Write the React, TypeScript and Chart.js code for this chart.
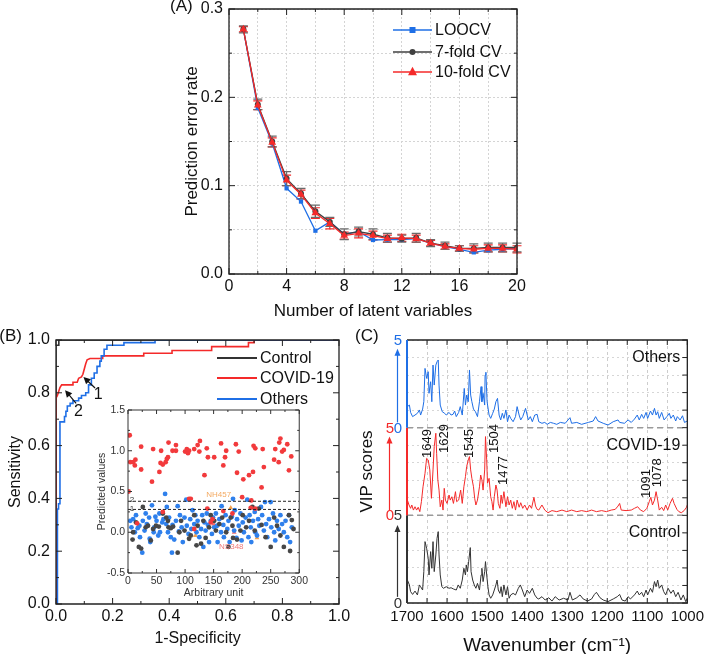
import React, { useEffect, useRef } from "react";
import { Chart, registerables } from "chart.js";

Chart.register(...registerables);

const FONT = "'Liberation Sans', Arial, Helvetica, sans-serif";
Chart.defaults.font.family = FONT;

const BLUE = "#1f6fe6";
const RED = "#f42a2a";
const DARK = "#333333";
const TXT = "#111111";

// ---------------- Panel A : prediction error rate ----------------
const latentVariables = [1, 2, 3, 4, 5, 6, 7, 8, 9, 10, 11, 12, 13, 14, 15, 16, 17, 18, 19, 20];
const loocvRate = [0.277, 0.188, 0.148, 0.097, 0.082, 0.049, 0.059, 0.045, 0.048, 0.0385, 0.039, 0.039, 0.04, 0.035, 0.031, 0.028, 0.0245, 0.027, 0.028, 0.029];
const sevenFoldRate = [0.277, 0.192, 0.15, 0.108, 0.091, 0.071, 0.059, 0.045, 0.048, 0.045, 0.041, 0.04, 0.041, 0.035, 0.032, 0.029, 0.029, 0.03, 0.03, 0.03];
const sevenFoldErr = [0.004, 0.006, 0.006, 0.008, 0.006, 0.007, 0.005, 0.006, 0.005, 0.006, 0.005, 0.004, 0.005, 0.004, 0.004, 0.003, 0.005, 0.005, 0.005, 0.005];
const tenFoldRate = [0.277, 0.191, 0.149, 0.106, 0.09, 0.069, 0.057, 0.0435, 0.046, 0.0435, 0.04, 0.041, 0.04, 0.035, 0.031, 0.029, 0.028, 0.029, 0.029, 0.028];
const tenFoldErr = [0.003, 0.005, 0.005, 0.006, 0.005, 0.006, 0.006, 0.004, 0.005, 0.005, 0.004, 0.004, 0.004, 0.003, 0.003, 0.003, 0.004, 0.004, 0.004, 0.004];
const legendOrderA = ["LOOCV", "7-fold CV", "10-fold CV"];

// ---------------- Panel B : ROC curves ----------------
const rocControl: [number, number][] = [[0, 0], [0, 0.98], [0.01, 0.98], [0.01, 1], [1, 1]];
const rocCovid: [number, number][] = [
  [0, 0], [0, 0.78], [0.005, 0.79], [0.008, 0.8], [0.014, 0.82], [0.02, 0.83], [0.06, 0.83], [0.06, 0.84],
  [0.075, 0.84], [0.08, 0.855], [0.09, 0.86], [0.095, 0.87], [0.1, 0.89], [0.105, 0.91], [0.11, 0.925],
  [0.12, 0.93], [0.165, 0.93], [0.165, 0.94], [0.31, 0.94], [0.31, 0.95], [0.41, 0.95], [0.41, 0.96],
  [0.55, 0.96], [0.55, 0.975], [0.68, 0.975], [0.68, 0.99], [0.7, 0.99], [0.7, 1], [1, 1],
];
const rocOthers: [number, number][] = [
  [0, 0], [0.005, 0], [0.005, 0.36], [0.009, 0.36], [0.009, 0.38], [0.014, 0.38], [0.014, 0.69], [0.03, 0.69],
  [0.03, 0.71], [0.035, 0.71], [0.035, 0.73], [0.04, 0.73], [0.04, 0.75], [0.05, 0.75], [0.05, 0.76],
  [0.06, 0.76], [0.06, 0.77], [0.08, 0.77], [0.08, 0.78], [0.09, 0.78], [0.09, 0.79], [0.105, 0.79],
  [0.105, 0.8], [0.115, 0.8], [0.115, 0.83], [0.125, 0.83], [0.125, 0.855], [0.135, 0.855], [0.135, 0.875],
  [0.145, 0.875], [0.145, 0.9], [0.155, 0.9], [0.155, 0.92], [0.16, 0.92], [0.16, 0.94], [0.17, 0.94],
  [0.17, 0.965], [0.18, 0.965], [0.18, 0.98], [0.24, 0.98], [0.24, 0.99], [0.35, 0.99], [0.35, 1], [1, 1],
];
const rocLabels = ["Control", "COVID-19", "Others"];
// arrows: [tailX, tailY, tipX, tipY, labelX, labelY]
const rocArrowNames = ["1", "2"];
const rocArrows: number[][] = [
  [0.138, 0.818, 0.097, 0.86, 0.149, 0.795],
  [0.071, 0.76, 0.032, 0.81, 0.079, 0.728],
];

// ---------------- Panel B inset : predicted values ----------------
const insetCovid: [number, number][] = [
  [1, 0.5], [3, 1.19], [4, 0.86], [9, 0.86], [12, 0.82], [13, 0.89], [16, 0.11], [23, 1.05], [23, 0.77], [42, 0.62],
  [44, 1.02], [55, 0.74], [57, 0.85], [58, 1.0], [61, 0.83], [61, 0.25], [66, 0.86], [68, 0.9], [70, 0.92], [71, 1.1],
  [78, 1.0], [84, 1.07], [84, 1.0], [100, 0.99], [103, 1.02], [105, 0.97], [107, 1.0], [107, 0.41], [110, 0.41],
  [116, 1.02], [116, 0.04], [122, 1.07], [125, 0.99], [126, 1.12], [134, 0.7], [138, 1.03], [139, 0.29], [140, 0.92],
  [145, 0.12], [148, 0.16], [151, 0.92], [163, 1.09], [167, 0.82], [167, 0.26], [170, 0.92], [172, 1.0], [183, 0.23],
  [189, 1.08], [191, 0.73], [194, 0.99], [200, 0.43], [202, 0.65], [212, 0.7], [215, 0.3], [216, 0.39], [219, 0.74],
  [220, 1.06], [223, 1.03], [223, 0.29], [234, 0.55], [236, 1.02], [238, 0.8], [256, 0.89], [258, 1.02], [264, 0.86],
  [265, 1.1], [267, 1.15], [270, 0.99], [273, 1.01], [279, 1.08], [282, 0.76], [286, 0.93],
];
const insetOthers: [number, number][] = [
  [4, 0.14], [6, 0.06], [9, 0.16], [12, 0.0], [14, 0.21], [17, 0.05], [20, 0.08], [21, -0.06], [25, -0.25], [26, 0.14],
  [29, 0.02], [31, 0.23], [33, 0.1], [37, 0.18], [38, -0.08], [39, -0.12], [42, 0.33], [45, 0.0], [46, 0.06], [48, 0.19],
  [50, 0.14], [53, -0.04], [55, 0.23], [56, 0.0], [60, 0.12], [62, 0.16], [65, 0.47], [67, 0.1], [68, 0.31], [70, 0.0],
  [72, 0.18], [75, -0.06], [77, -0.25], [78, 0.09], [81, -0.09], [84, 0.14], [87, 0.32], [89, 0.01], [91, 0.21],
  [94, 0.06], [96, -0.12], [99, 0.18], [102, 0.4], [103, 0.08], [106, -0.02], [109, 0.16], [111, 0.04], [113, 0.27],
  [116, 0.1], [118, 0.21], [120, 0.0], [122, 0.14], [125, -0.06], [128, 0.04], [130, 0.21], [132, -0.18], [134, 0.12],
  [136, 0.02], [138, 0.23], [140, 0.09], [142, -0.12], [145, 0.14], [147, -0.02], [149, 0.18], [151, 0.06], [154, 0.23],
  [156, 0.08], [157, -0.12], [160, 0.16], [163, 0.0], [164, 0.32], [167, 0.09], [168, -0.06], [171, 0.21], [174, 0.04],
  [176, 0.14], [178, -0.12], [182, 0.19], [184, 0.41], [186, 0.02], [187, 0.27], [190, -0.07], [191, 0.16], [194, 0.08],
  [197, 0.23], [199, -0.1], [201, 0.12], [203, 0.0], [206, 0.18], [209, 0.4], [211, -0.06], [213, 0.21], [215, 0.06],
  [216, -0.12], [219, 0.14], [222, 0.25], [223, 0.0], [226, -0.04], [228, 0.16], [230, 0.08], [233, 0.31], [235, 0.21],
  [238, 0.02], [240, 0.37], [242, 0.1], [244, -0.06], [247, 0.16], [250, 0.37], [251, 0.06], [254, 0.23], [256, 0.0],
  [258, -0.1], [261, 0.14], [264, 0.04], [267, 0.21], [270, 0.1], [273, 0.0], [276, 0.14], [279, -0.06], [282, 0.21],
  [284, -0.12], [287, 0.06],
];
const insetControl: [number, number][] = [
  [8, -0.09], [9, 0.0], [14, 0.12], [19, -0.18], [23, -0.2], [26, 0.31], [31, 0.06], [35, 0.08], [40, -0.1], [44, 0.04],
  [49, 0.08], [54, 0.07], [61, 0.23], [67, 0.18], [70, 0.14], [71, 0.06], [75, 0.05], [79, 0.07], [87, -0.25], [90, 0.0],
  [93, 0.14], [99, 0.02], [107, -0.08], [110, -0.04], [116, 0.21], [120, -0.16], [122, 0.08], [128, -0.14], [132, 0.14],
  [136, -0.07], [142, 0.06], [145, 0.21], [151, 0.14], [154, 0.02], [160, 0.1], [165, 0.18], [172, 0.0], [176, -0.18],
  [180, 0.18], [183, 0.08], [184, -0.07], [191, -0.09], [197, 0.02], [201, 0.21], [207, 0.06], [212, 0.14], [218, 0.31],
  [222, 0.02], [229, 0.29], [234, 0.09], [241, -0.06], [250, -0.18], [256, 0.18], [261, 0.08], [267, -0.04], [273, -0.18],
  [282, 0.21], [284, -0.23], [287, 0.15], [290, 0.04],
];
const insetOrangeMarks: [number, number][] = [[118, -0.04], [180, 0.3], [226, -0.07]];
const insetPinkMarks: [number, number][] = [[186, 0.0], [150, 0.1]];
const insetThresholds = [0.28, 0.38];
const insetThresholdNames = ["1", "2"];
const insetNotes = ["NH457", "NS348"];
const insetNotePos: [number, number][] = [[159, 0.46], [181, -0.18]];
const insetNoteColor = ["#f3aa62", "#f07a7a"];

// ---------------- Panel C : VIP scores ----------------
const controlVip: [number, number][] = [
  [1699, 1.31], [1694, 1.03], [1691, 0.65], [1686, 0.49], [1680, 0.68], [1674, 0.46], [1669, 1.03], [1666, 0.93],
  [1661, 0.74], [1658, 1.79], [1655, 3.5], [1651, 3.12], [1647, 2.55], [1645, 1.6], [1641, 2.93], [1638, 1.98],
  [1635, 3.5], [1632, 1.79], [1628, 2.74], [1625, 3.69], [1622, 4.07], [1620, 2.74], [1617, 1.6], [1613, 0.93],
  [1609, 0.84], [1602, 0.93], [1595, 0.84], [1590, 0.87], [1584, 0.8], [1577, 0.74], [1572, 1.03], [1567, 0.84],
  [1562, 1.31], [1558, 1.98], [1554, 1.6], [1552, 2.17], [1549, 1.79], [1546, 2.36], [1542, 3.16], [1540, 1.79],
  [1536, 1.31], [1532, 1.03], [1528, 0.84], [1524, 1.12], [1519, 0.74], [1515, 1.6], [1513, 1.98], [1510, 1.22],
  [1506, 1.79], [1504, 2.36], [1501, 1.6], [1498, 0.93], [1495, 0.46], [1491, 0.27], [1486, 0.46], [1482, 0.74],
  [1478, 1.03], [1475, 1.31], [1472, 0.74], [1468, 0.55], [1465, 0.93], [1462, 0.36], [1458, 1.03], [1453, 0.46],
  [1449, 0.93], [1445, 0.27], [1441, 0.46], [1435, 0.55], [1429, 0.46], [1422, 0.84], [1417, 1.03], [1412, 0.74],
  [1406, 0.36], [1400, 0.74], [1394, 0.55], [1387, 0.84], [1381, 0.46], [1375, 0.27], [1371, 0.23], [1363, 0.36],
  [1355, 0.17], [1346, 0.3], [1338, 0.11], [1330, 0.36], [1320, 0.17], [1309, 0.27], [1298, 0.17], [1293, 0.61],
  [1287, 0.17], [1276, 0.3], [1268, 0.46], [1260, 0.23], [1249, 0.11], [1239, 0.23], [1232, 0.49], [1227, 0.61],
  [1218, 0.3], [1210, 0.17], [1198, 0.08], [1185, 0.23], [1175, 0.36], [1169, 0.49], [1163, 0.17], [1155, 0.11],
  [1148, 0.36], [1142, 0.23], [1132, 0.46], [1125, 0.68], [1120, 0.46], [1114, 0.61], [1109, 0.36], [1103, 0.74],
  [1099, 0.46], [1092, 0.84], [1087, 0.61], [1082, 1.22], [1078, 0.93], [1074, 1.31], [1070, 0.84], [1064, 1.03],
  [1059, 0.65], [1054, 0.46], [1048, 0.84], [1041, 0.55], [1035, 0.74], [1029, 0.36], [1023, 0.61], [1016, 0.17],
  [1010, 0.46], [1004, 0.08], [1000, 0.27],
];
const covidVip: [number, number][] = [
  [1699, 0.87], [1695, 0.59], [1691, 0.4], [1688, 0.59], [1684, 0.3], [1680, 0.49], [1676, 0.3], [1672, 0.46],
  [1668, 0.21], [1664, 0.78], [1660, 1.63], [1655, 2.4], [1651, 3.25], [1647, 3.16], [1643, 2.59], [1639, 0.97],
  [1635, 2.59], [1632, 3.92], [1628, 4.68], [1626, 3.54], [1623, 2.02], [1620, 1.44], [1617, 0.49], [1613, 0.87],
  [1610, 0.3], [1607, 1.54], [1604, 0.87], [1600, 0.68], [1595, 1.16], [1592, 0.87], [1588, 1.06], [1584, 0.68],
  [1579, 1.35], [1576, 0.78], [1571, 0.87], [1566, 1.44], [1562, 0.68], [1558, 1.63], [1554, 2.21], [1551, 2.78],
  [1547, 3.16], [1544, 3.35], [1541, 2.59], [1538, 2.11], [1534, 1.63], [1531, 0.97], [1528, 0.59], [1524, 0.87],
  [1519, 1.63], [1516, 2.3], [1513, 2.02], [1510, 1.44], [1506, 2.59], [1504, 4.49], [1501, 3.16], [1499, 1.83],
  [1495, 2.11], [1491, 1.06], [1488, 0.78], [1485, 0.3], [1482, 1.06], [1478, 1.73], [1475, 1.44], [1472, 0.68],
  [1468, 0.4], [1465, 1.16], [1462, 0.68], [1458, 1.35], [1453, 0.49], [1449, 1.06], [1445, 0.59], [1441, 0.87],
  [1437, 0.4], [1433, 0.78], [1429, 0.3], [1425, 0.87], [1420, 0.46], [1416, 0.72], [1411, 0.4], [1406, 0.59],
  [1400, 0.3], [1394, 0.59], [1389, 0.4], [1383, 1.03], [1379, 0.53], [1375, 0.34], [1371, 0.3], [1363, 0.59],
  [1356, 0.3], [1348, 0.15], [1338, 0.27], [1326, 0.21], [1313, 0.3], [1301, 0.21], [1289, 0.3], [1276, 0.21],
  [1264, 0.27], [1251, 0.21], [1239, 0.3], [1227, 0.21], [1214, 0.27], [1202, 0.21], [1190, 0.3], [1180, 0.34],
  [1173, 0.53], [1169, 0.68], [1165, 0.3], [1153, 0.27], [1140, 0.3], [1132, 0.4], [1124, 0.49], [1117, 0.3],
  [1109, 0.21], [1101, 0.4], [1095, 0.78], [1091, 1.03], [1087, 0.59], [1082, 0.87], [1078, 1.35], [1074, 0.87],
  [1070, 0.3], [1064, 0.46], [1059, 0.27], [1054, 0.59], [1049, 0.3], [1043, 0.68], [1037, 0.97], [1033, 0.68],
  [1026, 0.34], [1021, 0.21], [1015, 0.15], [1008, 0.27], [1002, 0.46], [1000, 0.59],
];
const othersVip: [number, number][] = [
  [1699, 1.2], [1694, 1.29], [1691, 0.87], [1686, 0.63], [1680, 0.72], [1674, 0.82], [1669, 1.01], [1666, 0.72],
  [1661, 1.06], [1658, 1.48], [1655, 3.38], [1651, 2.81], [1647, 3.19], [1645, 1.96], [1641, 2.62], [1638, 1.48],
  [1635, 3.57], [1632, 2.43], [1628, 3.57], [1625, 3.76], [1622, 3.86], [1620, 2.43], [1617, 1.29], [1612, 0.91],
  [1606, 0.82], [1602, 0.72], [1595, 0.87], [1590, 0.72], [1585, 0.76], [1581, 0.95], [1577, 0.63], [1571, 0.87],
  [1567, 1.2], [1562, 0.72], [1557, 2.24], [1554, 1.29], [1551, 1.86], [1547, 1.48], [1544, 3.29], [1541, 1.86],
  [1538, 1.48], [1534, 1.06], [1529, 0.91], [1524, 0.63], [1519, 1.48], [1515, 2.34], [1513, 1.48], [1510, 1.96],
  [1506, 1.29], [1505, 3.0], [1503, 3.16], [1500, 1.48], [1495, 0.72], [1491, 0.53], [1486, 0.82], [1482, 1.06],
  [1478, 1.48], [1474, 1.67], [1470, 0.72], [1466, 0.44], [1462, 0.82], [1458, 0.53], [1453, 1.01], [1449, 0.34],
  [1445, 0.72], [1441, 0.53], [1435, 0.34], [1429, 0.63], [1425, 1.2], [1420, 0.72], [1416, 0.44], [1411, 0.63],
  [1404, 1.1], [1397, 0.44], [1392, 0.63], [1387, 0.34], [1381, 0.72], [1375, 0.76], [1371, 0.34], [1363, 0.25],
  [1356, 0.3], [1350, 0.19], [1342, 0.3], [1334, 0.25], [1326, 0.19], [1317, 0.3], [1305, 0.25], [1293, 0.57],
  [1289, 0.25], [1276, 0.3], [1264, 0.19], [1247, 0.3], [1235, 0.38], [1229, 0.63], [1223, 0.38], [1210, 0.25],
  [1198, 0.15], [1185, 0.34], [1173, 0.44], [1169, 0.3], [1157, 0.25], [1148, 0.44], [1140, 0.3], [1132, 0.49],
  [1125, 0.72], [1120, 0.44], [1114, 0.76], [1109, 0.53], [1103, 0.87], [1099, 0.53], [1092, 0.95], [1087, 0.72],
  [1082, 1.1], [1078, 0.72], [1074, 0.91], [1070, 0.53], [1064, 0.87], [1058, 0.44], [1051, 0.63], [1045, 0.82],
  [1041, 0.53], [1035, 0.72], [1029, 0.38], [1025, 0.63], [1018, 0.44], [1012, 0.68], [1007, 0.3], [1000, 0.38],
];
const sectionNames = ["Control", "COVID-19", "Others"];
const sectionOffsets = [0, 5, 10];
const sectionColors = [DARK, RED, BLUE];
const vipTickValues = [0, 5, 5, 10, 10, 15];
const vipTickTexts = ["0", "5", "0", "5", "0", "5"];
const vipTickSection = [0, 0, 1, 1, 2, 2];
const vipTickColumn = [0, 0, 1, 1, 0, 0];
const sectionArrows: [number, number][] = [[0.35, 4.45], [5.3, 9.5], [10.3, 14.5]];
const sectionArrowColumn = [0, 1, 0];
const peakLabels = ["1649", "1629", "1545", "1504", "1477", "1091", "1078"];
const peakLabelX = [1650, 1606, 1544, 1481, 1460, 1103, 1074];
const peakLabelBase = [8.27, 8.56, 8.27, 8.56, 6.73, 5.99, 6.6];

// ---------------- helpers ----------------
const f = (size: number) => `${size}px ${FONT}`;

function drawMarker(ctx: CanvasRenderingContext2D, style: string, x: number, y: number, r: number, color: string) {
  ctx.fillStyle = color;
  ctx.beginPath();
  if (style === "rect") {
    ctx.rect(x - r, y - r, 2 * r, 2 * r);
  } else if (style === "triangle") {
    ctx.moveTo(x, y - r * 1.15);
    ctx.lineTo(x + r, y + r * 0.7);
    ctx.lineTo(x - r, y + r * 0.7);
    ctx.closePath();
  } else {
    ctx.arc(x, y, r, 0, Math.PI * 2);
  }
  ctx.fill();
}

function isMultiple(v: number, step: number) {
  return Math.abs(v / step - Math.round(v / step)) < 1e-6;
}

function boxTicks(o: {
  xMinor: number; xMajor: number; yMinor: number; yMajor: number;
  major: number; minor: number; color: string; lw: number; noLeft?: boolean;
}) {
  return {
    id: "boxTicks",
    afterDraw(chart: any) {
      const { ctx, chartArea: a } = chart;
      const xs = chart.scales.x;
      const ys = chart.scales.y;
      ctx.save();
      ctx.strokeStyle = o.color;
      ctx.lineWidth = 1;
      ctx.beginPath();
      for (let i = 0; ; i++) {
        const v = xs.min + i * o.xMinor;
        if (v > xs.max + 1e-9) break;
        const px = xs.getPixelForValue(v);
        const L = isMultiple(v, o.xMajor) ? o.major : o.minor;
        ctx.moveTo(px, a.bottom); ctx.lineTo(px, a.bottom - L);
        ctx.moveTo(px, a.top); ctx.lineTo(px, a.top + L);
      }
      for (let i = 0; ; i++) {
        const v = ys.min + i * o.yMinor;
        if (v > ys.max + 1e-9) break;
        const py = ys.getPixelForValue(v);
        const L = isMultiple(v, o.yMajor) ? o.major : o.minor;
        if (!o.noLeft) { ctx.moveTo(a.left, py); ctx.lineTo(a.left + L, py); }
        ctx.moveTo(a.right, py); ctx.lineTo(a.right - L, py);
      }
      ctx.stroke();
      ctx.lineWidth = o.lw;
      ctx.beginPath();
      if (o.noLeft) {
        ctx.moveTo(a.left, a.top); ctx.lineTo(a.right, a.top);
        ctx.lineTo(a.right, a.bottom); ctx.lineTo(a.left, a.bottom);
      } else {
        ctx.rect(a.left, a.top, a.right - a.left, a.bottom - a.top);
      }
      ctx.stroke();
      ctx.restore();
    },
  };
}

function textAt(ctx: any, text: string, x: number, y: number, size: number, color: string, align: string) {
  ctx.save();
  ctx.font = f(size);
  ctx.fillStyle = color;
  ctx.textAlign = align;
  ctx.textBaseline = "middle";
  ctx.fillText(text, x, y);
  ctx.restore();
}

const toXY = (arr: [number, number][], dy = 0) => arr.map(([x, y]) => ({ x, y: y + dy }));

// ---------------- Panel A config ----------------
function makeA(): any {
  const ds = (label: string, ys: number[], color: string, style: string, r: number, err: number[] | null, errColor: string, order: number) => ({
    label,
    data: latentVariables.map((x, i) => ({ x, y: ys[i] })),
    borderColor: color,
    backgroundColor: color,
    pointStyle: style,
    pointRadius: r,
    pointBorderWidth: 0,
    borderWidth: 1.3,
    errorBars: err,
    errorColor: errColor,
    order,
  });
  const errorBarPlugin = {
    id: "errorBars",
    beforeDatasetsDraw(chart: any) {
      const { ctx } = chart;
      const xs = chart.scales.x;
      const ys = chart.scales.y;
      chart.data.datasets.forEach((d: any) => {
        if (!d.errorBars) return;
        ctx.save();
        ctx.strokeStyle = d.errorColor;
        ctx.lineWidth = 1.2;
        d.data.forEach((p: any, i: number) => {
          const e = d.errorBars[i];
          const x = xs.getPixelForValue(p.x);
          const y1 = ys.getPixelForValue(p.y - e);
          const y2 = ys.getPixelForValue(p.y + e);
          ctx.beginPath();
          ctx.moveTo(x, y1); ctx.lineTo(x, y2);
          ctx.moveTo(x - 4.5, y1); ctx.lineTo(x + 4.5, y1);
          ctx.moveTo(x - 4.5, y2); ctx.lineTo(x + 4.5, y2);
          ctx.stroke();
        });
        ctx.restore();
      });
    },
  };
  const legendPlugin = {
    id: "legendA",
    afterDraw(chart: any) {
      const { ctx, chartArea: a } = chart;
      const rows = [21, 43, 63];
      legendOrderA.forEach((name, i) => {
        const d = chart.data.datasets.find((q: any) => q.label === name);
        const y = a.top + rows[i];
        ctx.save();
        ctx.strokeStyle = d.borderColor;
        ctx.lineWidth = 1.5;
        ctx.beginPath();
        ctx.moveTo(a.right - 124, y); ctx.lineTo(a.right - 85, y);
        ctx.stroke();
        drawMarker(ctx, d.pointStyle, a.right - 104.5, y, d.pointRadius, d.borderColor);
        ctx.restore();
        textAt(ctx, name, a.right - 82, y + 1, 16, TXT, "left");
      });
      textAt(ctx, "(A)", 30, 16, 17, TXT, "left");
    },
  };
  return {
    type: "line",
    data: {
      datasets: [
        ds("10-fold CV", tenFoldRate, RED, "triangle", 4.5, tenFoldErr, RED, 0),
        ds("7-fold CV", sevenFoldRate, "#404040", "circle", 3, sevenFoldErr, "#6a6a6a", 1),
        ds("LOOCV", loocvRate, BLUE, "rect", 3, null, BLUE, 2),
      ],
    },
    options: {
      responsive: false,
      animation: false,
      layout: { padding: { left: 0, top: 19, right: 43, bottom: 0 } },
      plugins: { legend: { display: false }, tooltip: { enabled: false } },
      scales: {
        x: {
          type: "linear", min: 0, max: 20,
          afterFit: (s: any) => { s.height = 56; },
          grid: { color: "#d4d4d4", drawTicks: false, lineWidth: 1 },
          border: { display: false, dash: [2, 2] },
          ticks: {
            stepSize: 2, autoSkip: false, maxRotation: 0, padding: 3, color: TXT, font: { size: 16 },
            callback: (v: number) => (isMultiple(v, 4) ? String(Math.round(v)) : ""),
          },
          title: { display: true, text: "Number of latent variables", color: TXT, font: { size: 17 }, padding: { top: 0, bottom: 8 } },
        },
        y: {
          type: "linear", min: 0, max: 0.3,
          afterFit: (s: any) => { s.width = 89; },
          grid: { color: "#d4d4d4", drawTicks: false, lineWidth: 1 },
          border: { display: false, dash: [2, 2] },
          ticks: {
            stepSize: 0.05, autoSkip: false, padding: 6, color: TXT, font: { size: 16 },
            callback: (v: number) => (isMultiple(v, 0.1) ? (Math.round(v * 10) / 10).toFixed(1) : ""),
          },
          title: { display: true, text: "Prediction error rate", color: TXT, font: { size: 17 }, padding: { top: 42, bottom: 0 } },
        },
      },
    },
    plugins: [errorBarPlugin, boxTicks({ xMinor: 2, xMajor: 4, yMinor: 0.05, yMajor: 0.1, major: 6, minor: 3, color: "#222", lw: 1.3 }), legendPlugin],
  };
}

// ---------------- Panel B config ----------------
function makeB(): any {
  const colors = [DARK, RED, BLUE];
  const curves = [rocControl, rocCovid, rocOthers];
  const legendPlugin = {
    id: "legendB",
    afterDraw(chart: any) {
      const { ctx, chartArea: a } = chart;
      const rows = [18, 38, 59];
      rocLabels.forEach((name, i) => {
        const y = a.top + rows[i];
        ctx.save();
        ctx.strokeStyle = colors[i];
        ctx.lineWidth = 1.8;
        ctx.beginPath();
        ctx.moveTo(a.right - 122, y); ctx.lineTo(a.right - 82, y);
        ctx.stroke();
        ctx.restore();
        textAt(ctx, name, a.right - 79, y + 1, 16, TXT, "left");
      });
      const xs = chart.scales.x;
      const ys = chart.scales.y;
      rocArrows.forEach((r, i) => {
        const x1 = xs.getPixelForValue(r[0]), y1 = ys.getPixelForValue(r[1]);
        const x2 = xs.getPixelForValue(r[2]), y2 = ys.getPixelForValue(r[3]);
        const ang = Math.atan2(y2 - y1, x2 - x1);
        ctx.save();
        ctx.strokeStyle = "#111";
        ctx.fillStyle = "#111";
        ctx.lineWidth = 1.2;
        ctx.beginPath();
        ctx.moveTo(x1, y1); ctx.lineTo(x2 - 4 * Math.cos(ang), y2 - 4 * Math.sin(ang));
        ctx.stroke();
        ctx.beginPath();
        ctx.moveTo(x2, y2);
        ctx.lineTo(x2 - 7 * Math.cos(ang) + 3.5 * Math.sin(ang), y2 - 7 * Math.sin(ang) - 3.5 * Math.cos(ang));
        ctx.lineTo(x2 - 7 * Math.cos(ang) - 3.5 * Math.sin(ang), y2 - 7 * Math.sin(ang) + 3.5 * Math.cos(ang));
        ctx.closePath();
        ctx.fill();
        ctx.restore();
        textAt(ctx, rocArrowNames[i], xs.getPixelForValue(r[4]), ys.getPixelForValue(r[5]), 16, TXT, "center");
      });
      textAt(ctx, "(B)", 22, 16, 17, TXT, "right");
    },
  };
  return {
    type: "line",
    data: {
      datasets: curves.map((c, i) => ({
        label: rocLabels[i],
        data: toXY(c),
        borderColor: colors[i],
        borderWidth: 1.6,
        pointRadius: 0,
        tension: 0,
        order: 2 - i,
      })),
    },
    options: {
      responsive: false,
      animation: false,
      layout: { padding: { left: 0, top: 20, right: 16, bottom: 0 } },
      plugins: { legend: { display: false }, tooltip: { enabled: false } },
      scales: {
        x: {
          type: "linear", min: 0, max: 1,
          afterFit: (s: any) => { s.height = 50; },
          grid: { display: false, drawTicks: false },
          border: { display: false },
          ticks: { stepSize: 0.2, autoSkip: false, maxRotation: 0, padding: 3, color: TXT, font: { size: 16 }, callback: (v: number) => v.toFixed(1) },
          title: { display: true, text: "1-Specificity", color: TXT, font: { size: 16 }, padding: { top: 0, bottom: 6 } },
        },
        y: {
          type: "linear", min: 0, max: 1,
          afterFit: (s: any) => { s.width = 56; },
          grid: { display: false, drawTicks: false },
          border: { display: false },
          ticks: { stepSize: 0.2, autoSkip: false, padding: 6, color: TXT, font: { size: 16 }, callback: (v: number) => v.toFixed(1) },
          title: { display: true, text: "Sensitivity", color: TXT, font: { size: 16 }, padding: { top: 6, bottom: 0 } },
        },
      },
    },
    plugins: [boxTicks({ xMinor: 0.1, xMajor: 0.2, yMinor: 0.1, yMajor: 0.2, major: 6, minor: 3, color: "#222", lw: 1.3 }), legendPlugin],
  };
}

// ---------------- Panel B inset config ----------------
function makeInset(): any {
  const notesPlugin = {
    id: "insetNotes",
    afterDatasetsDraw(chart: any) {
      const { ctx } = chart;
      const xs = chart.scales.x;
      const ys = chart.scales.y;
      insetNotes.forEach((t, i) => {
        textAt(ctx, t, xs.getPixelForValue(insetNotePos[i][0]), ys.getPixelForValue(insetNotePos[i][1]), 8, insetNoteColor[i], "center");
      });
      insetThresholds.forEach((t, i) => {
        textAt(ctx, insetThresholdNames[i], xs.getPixelForValue(3), ys.getPixelForValue(t) - 1, 8, "#333", "left");
      });
    },
  };
  const scatter = (label: string, pts: [number, number][], color: string, style = "circle", r = 2.4) => ({
    type: "scatter",
    label,
    data: toXY(pts),
    backgroundColor: color,
    borderWidth: 0,
    pointRadius: r,
    pointStyle: style,
  });
  return {
    type: "scatter",
    data: {
      datasets: [
        ...insetThresholds.map((t, i) => ({
          type: "line",
          label: "threshold " + insetThresholdNames[i],
          data: [{ x: 0, y: t }, { x: 300, y: t }],
          borderColor: "#222",
          borderWidth: 1,
          borderDash: [3, 2],
          pointRadius: 0,
        })),
        scatter("COVID-19", insetCovid, "#f23a3c"),
        scatter("Control", insetControl, "#474747"),
        scatter("Others", insetOthers, "#2f80ec"),
        scatter("NH457", insetOrangeMarks, "#f5a04a", "triangle", 2.8),
        scatter("NS348", insetPinkMarks, "#f07070", "triangle", 2.8),
      ],
    },
    options: {
      responsive: false,
      animation: false,
      layout: { padding: { left: 0, top: 10, right: 9, bottom: 0 } },
      plugins: { legend: { display: false }, tooltip: { enabled: false } },
      scales: {
        x: {
          type: "linear", min: 0, max: 300,
          afterFit: (s: any) => { s.height = 32; },
          grid: { display: false, drawTicks: false },
          border: { display: false },
          ticks: { stepSize: 50, autoSkip: false, maxRotation: 0, padding: 2, color: "#333", font: { size: 10.5 } },
          title: { display: true, text: "Arbitrary unit", color: "#333", font: { size: 10.5 }, padding: { top: 0, bottom: 5.5 } },
        },
        y: {
          type: "linear", min: -0.5, max: 1.5,
          afterFit: (s: any) => { s.width = 40; },
          grid: { display: false, drawTicks: false },
          border: { display: false },
          ticks: { stepSize: 0.5, autoSkip: false, padding: 3, color: "#333", font: { size: 10.5 }, callback: (v: number) => v.toFixed(1) },
          title: { display: true, text: "Predicted values", color: "#333", font: { size: 10.5 }, padding: { top: 7.5, bottom: 0 } },
        },
      },
    },
    plugins: [boxTicks({ xMinor: 25, xMajor: 50, yMinor: 0.25, yMajor: 0.5, major: 4, minor: 2, color: "#333", lw: 1 }), notesPlugin],
  };
}

// ---------------- Panel C config ----------------
function makeC(): any {
  const series = [controlVip, covidVip, othersVip];
  const decor = {
    id: "vipDecor",
    beforeDatasetsDraw(chart: any) {
      const { ctx, chartArea: a } = chart;
      const ys = chart.scales.y;
      ctx.save();
      ctx.strokeStyle = "#9a9a9a";
      ctx.lineWidth = 1.5;
      ctx.setLineDash([6, 4]);
      [5, 10].forEach((v) => {
        const py = ys.getPixelForValue(v);
        ctx.beginPath(); ctx.moveTo(a.left, py); ctx.lineTo(a.right, py); ctx.stroke();
      });
      ctx.restore();
    },
    afterDraw(chart: any) {
      const { ctx, chartArea: a } = chart;
      const xs = chart.scales.x;
      const ys = chart.scales.y;
      sectionOffsets.forEach((off, i) => {
        ctx.save();
        ctx.strokeStyle = sectionColors[i];
        ctx.lineWidth = 2;
        ctx.beginPath();
        ctx.moveTo(a.left, ys.getPixelForValue(off));
        ctx.lineTo(a.left, ys.getPixelForValue(off + 5));
        ctx.stroke();
        ctx.restore();
      });
      const colX = [a.left - 5, a.left - 13];
      vipTickValues.forEach((v, i) => {
        textAt(ctx, vipTickTexts[i], colX[vipTickColumn[i]], ys.getPixelForValue(v) + 1, 15, sectionColors[vipTickSection[i]], "right");
      });
      const arrowX = [a.left - 9.5, a.left - 17.5];
      sectionArrows.forEach(([lo, hi], i) => {
        const x = arrowX[sectionArrowColumn[i]];
        const y1 = ys.getPixelForValue(lo);
        const y2 = ys.getPixelForValue(hi);
        ctx.save();
        ctx.strokeStyle = sectionColors[i];
        ctx.fillStyle = sectionColors[i];
        ctx.lineWidth = 1.2;
        ctx.beginPath(); ctx.moveTo(x, y1); ctx.lineTo(x, y2 + 4); ctx.stroke();
        ctx.beginPath(); ctx.moveTo(x, y2); ctx.lineTo(x - 3, y2 + 7); ctx.lineTo(x + 3, y2 + 7); ctx.closePath(); ctx.fill();
        ctx.restore();
      });
      sectionNames.forEach((n, i) => {
        textAt(ctx, n, a.right - 7, ys.getPixelForValue(sectionOffsets[i] + 4.0), 16, TXT, "right");
      });
      peakLabels.forEach((t, i) => {
        ctx.save();
        ctx.translate(xs.getPixelForValue(peakLabelX[i]), ys.getPixelForValue(peakLabelBase[i]));
        ctx.rotate(-Math.PI / 2);
        ctx.font = f(13);
        ctx.fillStyle = TXT;
        ctx.textAlign = "left";
        ctx.textBaseline = "middle";
        ctx.fillText(t, 0, 0);
        ctx.restore();
      });
      textAt(ctx, "(C)", 0, 16, 17, TXT, "left");
    },
  };
  return {
    type: "line",
    data: {
      datasets: series.map((s, i) => ({
        label: sectionNames[i],
        data: toXY(s, sectionOffsets[i]),
        borderColor: sectionColors[i],
        borderWidth: 1,
        pointRadius: 0,
        tension: 0,
      })),
    },
    options: {
      responsive: false,
      animation: false,
      layout: { padding: { left: 0, top: 20, right: 19, bottom: 0 } },
      plugins: { legend: { display: false }, tooltip: { enabled: false } },
      scales: {
        x: {
          type: "linear", min: 1000, max: 1700, reverse: true,
          afterFit: (s: any) => { s.height = 57; },
          grid: { color: "#cdcdcd", drawTicks: false },
          border: { display: false, dash: [3, 3] },
          ticks: {
            stepSize: 50, autoSkip: false, maxRotation: 0, padding: 5, color: TXT, font: { size: 15 },
            callback: (v: number) => (isMultiple(v, 100) ? String(Math.round(v)) : ""),
          },
          title: { display: true, text: "Wavenumber (cm\u207B\u00B9)", color: TXT, font: { size: 19 }, padding: { top: 0, bottom: 3 } },
        },
        y: {
          type: "linear", min: 0, max: 15,
          afterFit: (s: any) => { s.width = 52; },
          grid: { color: "#d6d6d6", drawTicks: false },
          border: { display: false, dash: [2, 3] },
          ticks: { stepSize: 1, display: false },
          title: { display: true, text: "VIP scores", color: TXT, font: { size: 17 }, padding: { top: 2, bottom: 0 } },
        },
      },
    },
    plugins: [boxTicks({ xMinor: 50, xMajor: 100, yMinor: 1, yMajor: 5, major: 5, minor: 5, color: "#222", lw: 1.3, noLeft: true }), decor],
  };
}

function Panel({ left, top, width, height, make }: any) {
  const ref = useRef<HTMLCanvasElement | null>(null);
  useEffect(() => {
    if (!ref.current) return;
    const chart = new Chart(ref.current, make());
    return () => chart.destroy();
  }, []);
  return <canvas ref={ref} width={width} height={height} style={{ position: "absolute", left, top, width, height }} />;
}

export default function App() {
  return (
    <div style={{ position: "absolute", left: 0, top: 0, width: 709, height: 654, overflow: "hidden", background: "#fff" }}>
      <Panel left={140} top={-10} width={420} height={340} make={makeA} />
      <Panel left={0} top={320} width={355} height={334} make={makeB} />
      <Panel left={88} top={400} width={222} height={205} make={makeInset} />
      <Panel left={355} top={320} width={354} height={340} make={makeC} />
    </div>
  );
}
